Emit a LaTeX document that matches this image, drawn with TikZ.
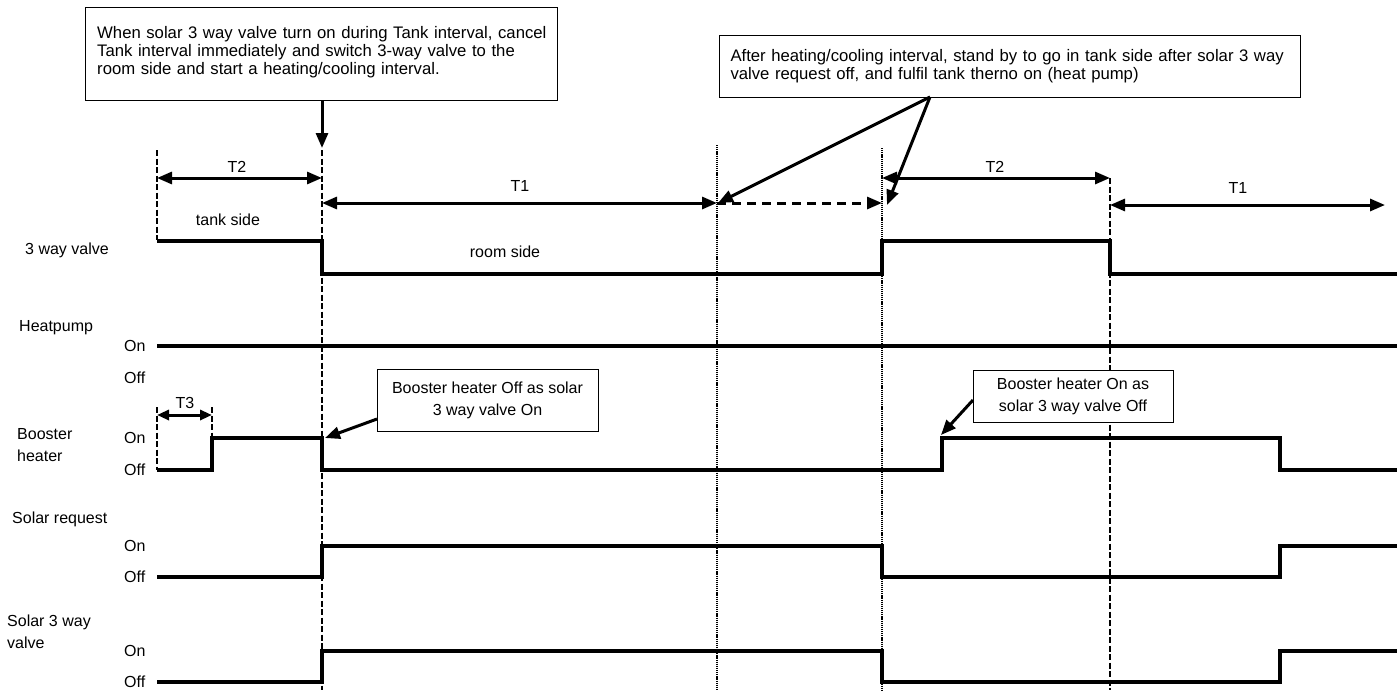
\documentclass[tikz,border=0pt]{standalone}
\usepackage{fontspec}
\setmainfont{Liberation Sans}
\usetikzlibrary{arrows.meta, positioning}

\tikzset{
  wave/.style={line width=4.5pt, line join=miter},
  dashmark/.style={line width=2.5pt, dash pattern=on 6pt off 2.5pt},
  dotmark/.style={line width=2pt, dash pattern=on 1.2pt off 0.9pt},
  span/.style={line width=3pt, {Triangle[length=15pt,width=12pt]}-{Triangle[length=15pt,width=12pt]}},
  callout/.style={line width=3pt, -{Triangle[length=15pt,width=12pt]}},
  note/.style={draw, line width=1pt, fill=white},
}

\begin{document}
\begin{tikzpicture}[x=1pt, y=-1pt]
\useasboundingbox (0,0) rectangle (1397,693);
\begin{scope}[every node/.style={font=\fontsize{16}{22}\selectfont, inner sep=0pt}]
% time marks
\draw [dashmark] (157,150) -- (157,240);
\draw [dashmark] (322,150) -- (322,690);
\draw [dotmark]  (717,145) -- (717,690);
\draw [dotmark]  (882,148) -- (882,690);
\draw [dashmark] (1110,178) -- (1110,690);
\draw [dashmark] (157,407) -- (157,470);
\draw [dashmark] (212,407) -- (212,470);

% intervals
\coordinate (tzero)  at (157,178);
\coordinate (tsw)    at (322,178);
\coordinate (tswlow) at (322,203);
\coordinate (twait)  at (717,203);
\coordinate (ttank)  at (882,203);
\coordinate (ttanku) at (882,178);
\coordinate (tback)  at (1110,178);
\coordinate (tbackl) at (1110,205);
\coordinate (tend)   at (1385,205);
\draw [span] (tzero) -- (tsw);
\draw [span] (tswlow) -- (twait);
\draw [callout, dash pattern=on 9pt off 6pt] (twait) -- (ttank);
\draw [span] (ttanku) -- (tback);
\draw [span] (tbackl) -- (tend);
\node (ltA) at (237,167) {T2};
\node (ltB) at (520,186) {T1};
\node (ltC) at (995,167) {T2};
\node (ltD) at (1238,188) {T1};
\node (tank) at (228,220) {tank side};
\node (room) at (505,252) {room side};

\coordinate (tthreeA) at (157,415);
\coordinate (tthreeB) at (212,415);
\draw [span, {Triangle[length=12pt,width=10pt]}-{Triangle[length=12pt,width=10pt]}] (tthreeA) -- (tthreeB);
\node (ltE) at (185,403) {T3};

% signal names
\node (valve)   [anchor=west] at (25,250) {3 way valve};
\node (hpump)   [anchor=west] at (19,328) {Heatpump};
\node (booster) [anchor=west, align=left] at (17,445) {Booster\\heater};
\node (solreq)  [anchor=west] at (12,519) {Solar request};
\node (solvlv)  [anchor=west, align=left] at (7,631.5) {Solar 3 way\\valve};
\foreach \row/\yon/\yoff in {hp/346/378, bh/438/470, sr/546/577, sv/651/682} {
  \node (\row on)  [anchor=west] at (124,\yon)  {On};
  \node (\row off) [anchor=west] at (124,\yoff) {Off};
}

% waveforms
\draw [wave] (157,241) -- (322,241) -- (322,274) -- (882,274) -- (882,241) -- (1110,241) -- (1110,274) -- (1397,274);
\draw [wave] (157,346) -- (1397,346);
\draw [wave] (157,470) -- (212,470) -- (212,438) -- (322,438) -- (322,470) -- (942,470) -- (942,438) -- (1280,438) -- (1280,470) -- (1397,470);
\draw [wave] (157,577) -- (322,577) -- (322,546) -- (882,546) -- (882,577) -- (1280,577) -- (1280,546) -- (1397,546);
\draw [wave] (157,682) -- (322,682) -- (322,651) -- (882,651) -- (882,682) -- (1280,682) -- (1280,651) -- (1397,651);

% notes
\node (noteA) [note, anchor=north west, minimum width=472pt, minimum height=93pt] at (85,7) {};
\node (noteAtext) [anchor=north west, text width=458pt, align=left, font=\fontsize{16.7}{18}\selectfont] at (97,26)
  {When solar 3 way valve turn on during Tank interval, cancel\\
   Tank interval immediately and switch 3-way valve to the\\
   room side and start a heating/cooling interval.};
\node (noteB) [note, anchor=north west, minimum height=62pt, text width=559pt, inner xsep=11pt, align=left, font=\fontsize{16.7}{18}\selectfont] at (719,35)
  {After heating/cooling interval, stand by to go in tank side after solar 3 way\\
   valve request off, and fulfil tank therno on (heat pump)};
\node (noteC) [note, minimum width=221pt, minimum height=62pt, align=center] at (487.5,400)
  {Booster heater Off as solar\\3 way valve On};
\node (noteD) [note, minimum width=200pt, minimum height=52pt, align=center] at (1073,396)
  {Booster heater On as\\solar 3 way valve Off};

\coordinate (noteBfoot) at (930,97);
\coordinate (hitA) at (322,148);
\coordinate (hitB) at (718,203);
\coordinate (hitC) at (887,205);
\coordinate (noteCfoot) at (377,419);
\coordinate (hitD) at (325,438);
\coordinate (noteDfoot) at (973,400);
\coordinate (hitE) at (941,435);
\draw [callout] (noteA.south -| hitA) -- (hitA);
\draw [callout] (noteBfoot) -- (hitB);
\draw [callout] (noteBfoot) -- (hitC);
\draw [callout] (noteCfoot) -- (hitD);
\draw [callout] (noteDfoot) -- (hitE);
\end{scope}
\end{tikzpicture}
\end{document}
